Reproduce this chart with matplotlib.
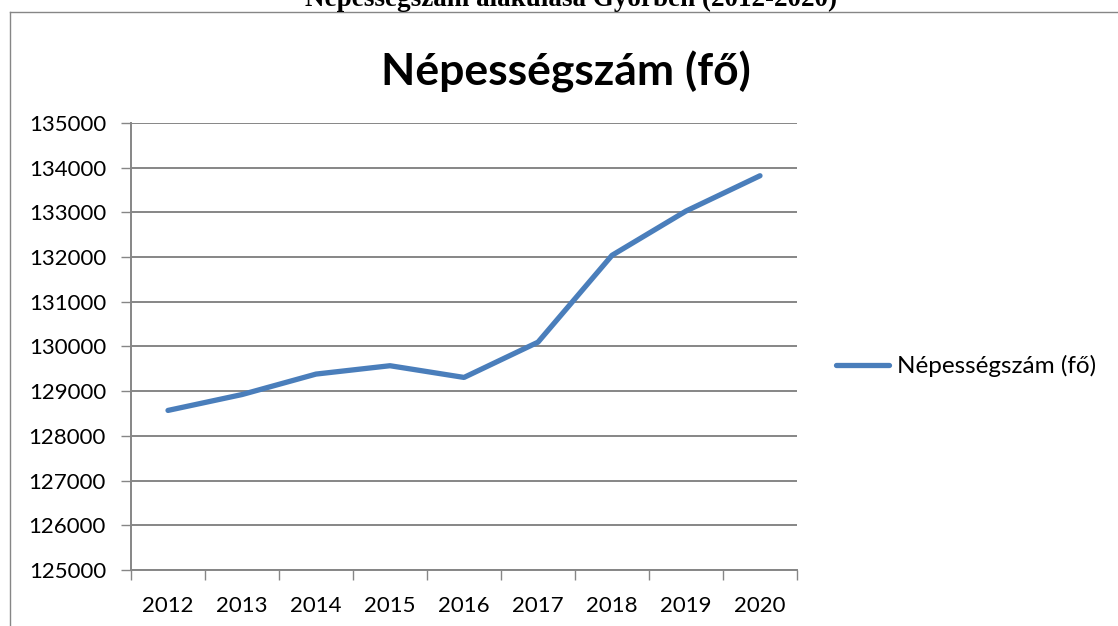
import matplotlib
matplotlib.use("Agg")
import matplotlib.pyplot as plt
from matplotlib.lines import Line2D
import numpy as np

years = ["2012", "2013", "2014", "2015", "2016", "2017", "2018", "2019", "2020"]
population = [128570, 128925, 129383, 129570, 129308, 130097, 132040, 133030, 133820]
y_ticks = [125000, 126000, 127000, 128000, 129000, 130000, 131000, 132000, 133000, 134000, 135000]
series_name = "Népességszám (fő)"
chart_title = "Népességszám (fő)"
doc_title = "Népességszám alakulása Győrben (2012-2020)"

W, H = 1118, 626
fig = plt.figure(figsize=(W / 100, H / 100), dpi=100)
font = ["Lato", "DejaVu Sans"]

# document caption (partly cut at top, as in the reference)
fig.text(571 / W, 1 - 6 / H, doc_title, ha="center", va="baseline",
         fontsize=19.5, fontweight="bold", family=["Liberation Serif", "DejaVu Serif"])

# chart frame
grey = "#868686"
fig.add_artist(Line2D([10 / W, 10 / W], [0, 1 - 12 / H], transform=fig.transFigure, color=grey, lw=1))
fig.add_artist(Line2D([10 / W, 1], [1 - 12 / H, 1 - 12 / H], transform=fig.transFigure, color=grey, lw=1))

ax = fig.add_axes([131 / W, (H - 570) / H, 666 / W, 447 / H])
x = np.arange(len(years))
line, = ax.plot(x, population, color="#4a7ebb", lw=3.8, solid_capstyle="round",
                solid_joinstyle="round", label=series_name)

ax.set_xlim(-0.5, len(years) - 0.5)
ax.set_ylim(y_ticks[0], y_ticks[-1])
ax.set_yticks(y_ticks)
ax.set_yticklabels([str(v) for v in y_ticks], family=font, fontsize=16)
ax.set_xticks(x)
ax.set_xticklabels(years, family=font, fontsize=16)
ax.set_xticks(np.arange(-0.5, len(years)), minor=True)
ax.tick_params(axis="x", which="major", length=0, pad=19)
ax.tick_params(axis="x", which="minor", length=7, color=grey, width=1)
ax.tick_params(axis="y", length=7, color=grey, width=1, pad=11)
ax.grid(axis="y", color=grey, lw=1.4)
ax.set_axisbelow(True)
for s in ["top", "right"]:
    ax.spines[s].set_visible(False)
for s in ["left", "bottom"]:
    ax.spines[s].set_color(grey)
    ax.spines[s].set_linewidth(1.4)

fig.text(566 / W, 1 - 72 / H, chart_title, ha="center", va="center",
         fontsize=32, fontweight="bold", family=font)

leg = fig.legend(handles=[line], labels=[series_name], loc="center left",
                 bbox_to_anchor=(836 / W, 1 - 366 / H), frameon=False,
                 prop={"family": font, "size": 17.5}, handlelength=2.2,
                 handletextpad=0.3, borderaxespad=0, borderpad=0)

fig.savefig("out.png", dpi=100)
